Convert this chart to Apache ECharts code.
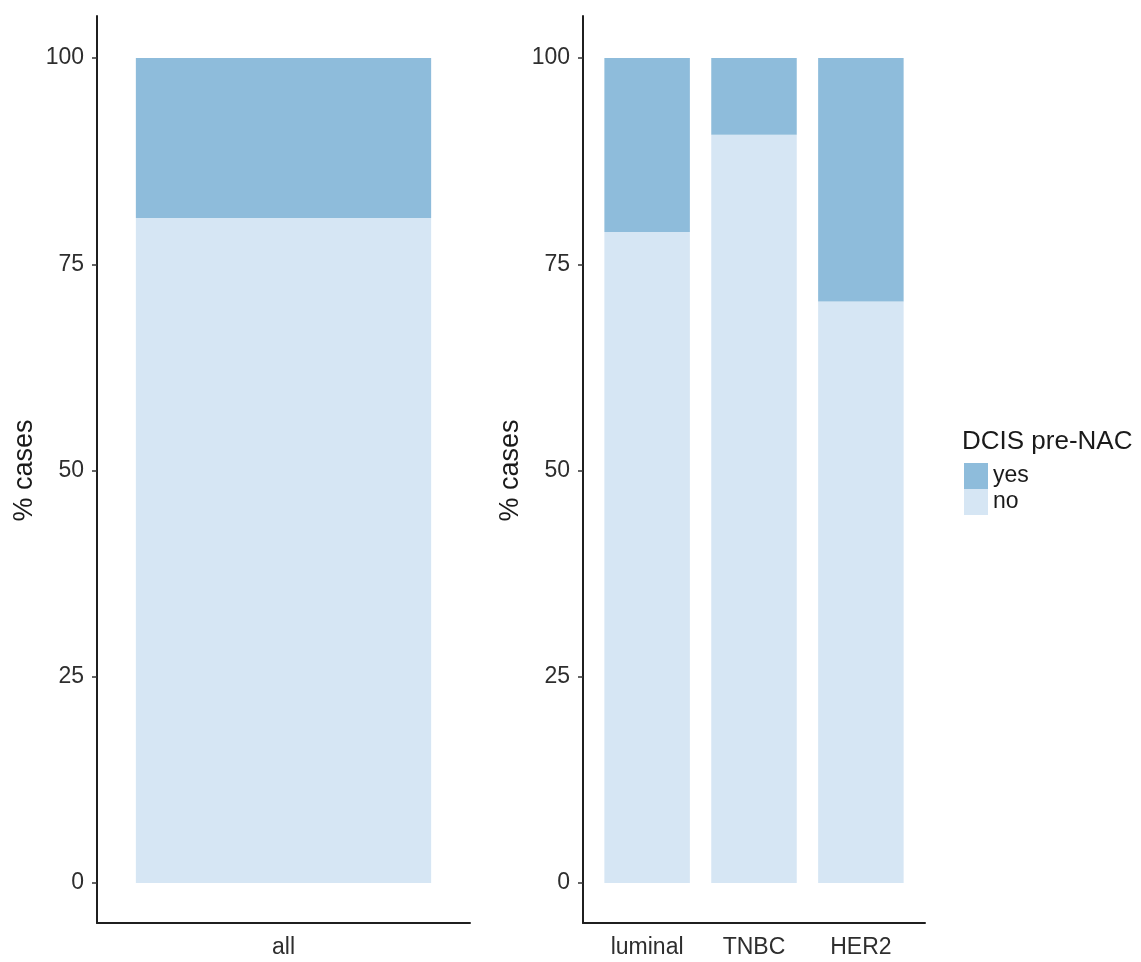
<!DOCTYPE html>
<html>
<head>
<meta charset="utf-8">
<script src="https://cdn.jsdelivr.net/npm/echarts@6/dist/echarts.min.js"></script>
<style>
html,body{margin:0;padding:0;background:#fff;}
#chart{width:1141px;height:962px;}
</style>
</head>
<body>
<div id="chart"></div>
<script>
// ---- data ----
const allCategories = ['all'];
const allNo = [80.6];
const allYes = [19.4];
const subtypeCategories = ['luminal', 'TNBC', 'HER2'];
const subtypeNo = [78.9, 90.7, 70.5];
const subtypeYes = [21.1, 9.3, 29.5];
const yTicks = { min: 0, max: 100, interval: 25 };
const legendTitle = 'DCIS pre-NAC';
const yTitle = '% cases';

// ---- style ----
const FONT = 'Liberation Sans, Arial, Helvetica, sans-serif';
const colYes = '#8ebcdb';
const colNo = '#d6e6f4';
const axisCol = '#1f1f1f';
const tickTextCol = '#2e2e2e';

const chart = echarts.init(document.getElementById('chart'), null, { renderer: 'canvas' });

function frameX() {
  return { type: 'value', min: 0, max: 1, show: true,
    axisLine: { show: true, onZero: false, lineStyle: { color: axisCol, width: 2 } },
    axisTick: { show: false }, axisLabel: { show: false }, splitLine: { show: false } };
}
function frameY() {
  return { type: 'value', min: 0, max: 1, show: true,
    axisLine: { show: true, onZero: false, lineStyle: { color: axisCol, width: 2 } },
    axisTick: { show: false }, axisLabel: { show: false }, splitLine: { show: false } };
}
function catX(cats, gridIndex) {
  return { type: 'category', data: cats, gridIndex: gridIndex,
    axisLine: { show: false }, axisTick: { show: false }, splitLine: { show: false },
    axisLabel: { color: tickTextCol, fontSize: 23, fontFamily: FONT, margin: 53 } };
}
function valY(gridIndex, offset) {
  return { type: 'value', gridIndex: gridIndex, min: yTicks.min, max: yTicks.max, interval: yTicks.interval,
    offset: offset,
    name: yTitle, nameLocation: 'middle', nameGap: 59,
    nameTextStyle: { color: '#1a1a1a', fontSize: 27, fontFamily: FONT },
    axisLine: { show: false },
    axisTick: { show: true, length: 5, lineStyle: { color: '#333', width: 1.5 } },
    axisLabel: { color: tickTextCol, fontSize: 23, fontFamily: FONT, margin: 13 },
    splitLine: { show: false } };
}

// left panel: frame 97..470 ; unit = 373/1.2
const lUnit = 373 / 1.2;
// right panel: frame 583..925 ; unit = 342/3.2
const rUnit = 342 / 3.2;

const option = {
  backgroundColor: '#ffffff',
  animation: false,
  title: {
    text: legendTitle, left: 957, top: 424,
    textStyle: { fontSize: 26, fontWeight: 'normal', color: '#1a1a1a', fontFamily: FONT }
  },
  legend: {
    data: ['yes', 'no'], orient: 'vertical', left: 959, top: 458,
    itemWidth: 24, itemHeight: 26, itemGap: 0, icon: 'rect',
    textStyle: { fontSize: 23, color: '#1a1a1a', fontFamily: FONT }
  },
  grid: [
    { left: 97, top: 16, width: 373, height: 907 },
    { left: 97 + 0.1 * lUnit, top: 58, width: lUnit, height: 825 },
    { left: 583, top: 16, width: 342, height: 907 },
    { left: 583 + 0.1 * rUnit, top: 58, width: 3 * rUnit, height: 825 }
  ],
  xAxis: [
    Object.assign(frameX(), { gridIndex: 0 }),
    catX(allCategories, 1),
    Object.assign(frameX(), { gridIndex: 2 }),
    catX(subtypeCategories, 3)
  ],
  yAxis: [
    Object.assign(frameY(), { gridIndex: 0 }),
    valY(1, 0.1 * lUnit),
    Object.assign(frameY(), { gridIndex: 2 }),
    valY(3, 0.1 * rUnit)
  ],
  series: [
    { name: 'no', type: 'bar', stack: 'all', xAxisIndex: 1, yAxisIndex: 1, data: allNo,
      barWidth: '95%', itemStyle: { color: colNo } },
    { name: 'yes', type: 'bar', stack: 'all', xAxisIndex: 1, yAxisIndex: 1, data: allYes,
      barWidth: '95%', itemStyle: { color: colYes } },
    { name: 'no', type: 'bar', stack: 'sub', xAxisIndex: 3, yAxisIndex: 3, data: subtypeNo,
      barWidth: '80%', itemStyle: { color: colNo } },
    { name: 'yes', type: 'bar', stack: 'sub', xAxisIndex: 3, yAxisIndex: 3, data: subtypeYes,
      barWidth: '80%', itemStyle: { color: colYes } }
  ]
};
chart.setOption(option);
</script>
</body>
</html>
